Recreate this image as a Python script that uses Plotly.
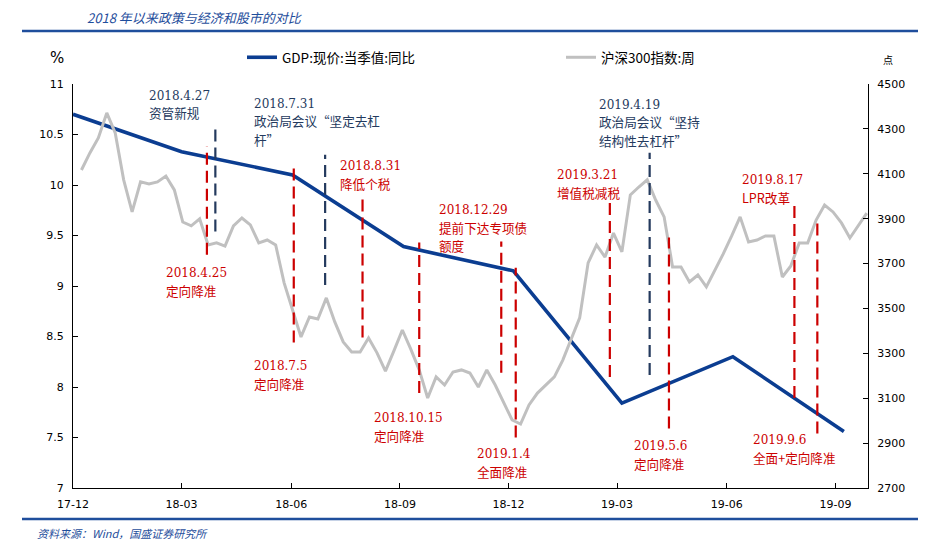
import plotly.graph_objects as go
import pandas as pd

# ---------------- data ----------------
gdp_dates = ["2017-12-01", "2018-03-01", "2018-06-01", "2018-09-01",
             "2018-12-01", "2019-03-01", "2019-06-01", "2019-09-01"]
gdp_values = [10.7, 10.33, 10.1, 9.39, 9.15, 7.84, 8.3, 7.56]

hs300_start = "2017-12-08"
hs300_values = [4117, 4193, 4260, 4371, 4282, 4073, 3930, 4064, 4055, 4064,
                4090, 4028, 3885, 3868, 3899, 3783, 3792, 3778, 3868, 3903,
                3872, 3792, 3805, 3783, 3614, 3493, 3373, 3462, 3453, 3547,
                3440, 3351, 3306, 3306, 3368, 3302, 3221, 3311, 3404, 3319,
                3226, 3101, 3195, 3159, 3217, 3226, 3212, 3150, 3226, 3159,
                3079, 3003, 2985, 3070, 3123, 3159, 3195, 3270, 3360, 3458,
                3703, 3783, 3729, 3836, 3752, 4006, 4041, 4073, 3983, 3908,
                3685, 3685, 3618, 3649, 3596, 3667, 3743, 3823, 3908, 3796,
                3805, 3823, 3823, 3640, 3689, 3792, 3792, 3894, 3961, 3930,
                3881, 3814, 3872, 3925]
hs300_dates = pd.date_range(hs300_start, periods=len(hs300_values), freq="7D")

# tick positions as they appear on the chart's axis
tick_dates = ["2017-12-01", "2018-03-01", "2018-05-31", "2018-08-29",
              "2018-11-27", "2019-02-25", "2019-05-27", "2019-08-25"]
tick_labels = ["17-12", "18-03", "18-06", "18-09", "18-12", "19-03", "19-06", "19-09"]
x_range = ["2017-12-01", "2019-09-21"]

# event marker lines (dates as drawn in the chart), kind: policy(navy) / easing(red)
event_marker_dates = ["2018-03-22", "2018-03-29", "2018-06-02", "2018-06-28", "2018-07-29",
                      "2018-09-14", "2018-11-21", "2018-12-03", "2019-02-19", "2019-03-24",
                      "2019-04-09", "2019-07-22", "2019-08-10"]
event_kinds = ["easing", "policy", "easing", "policy", "easing",
               "easing", "easing", "easing", "easing", "policy",
               "easing", "easing", "easing"]
event_top = [10.38, 10.56, 10.18, 10.30, 9.88, 9.43, 9.44, 9.18, 9.83, 10.32, 9.48, 9.82, 9.67]
event_bottom = [9.31, 9.54, 8.44, 9.01, 8.49, 7.94, 8.14, 7.50, 8.10, 8.12, 7.59, 7.89, 7.54]

event_day_labels = ["2018.4.25", "2018.4.27", "2018.7.5", "2018.7.31", "2018.8.31",
                    "2018.10.15", "2018.12.29", "2019.1.4", "2019.3.21", "2019.4.19",
                    "2019.5.6", "2019.8.17", "2019.9.6"]
event_desc = [["定向降准"], ["资管新规"], ["定向降准"], ["政治局会议“坚定去杠", "杆”"],
              ["降低个税"], ["定向降准"], ["提前下达专项债", "额度"], ["全面降准"],
              ["增值税减税"], ["政治局会议“坚持", "结构性去杠杆”"], ["定向降准"],
              ["LPR改革"], ["全面+定向降准"]]
# text block positions on the page (pixel left, pixel centre of first line)
event_text_px = [(164, 273), (147, 96), (252, 366), (252, 104), (338, 166), (372, 418),
                 (437, 210), (475, 454), (555, 175), (597, 105), (632, 446), (740, 180),
                 (751, 440)]

# ---------------- styling ----------------
W, H = 943, 549
PAGE_OFF = 8                      # page body offset of the plot in the browser
L, R, T, B = 73, 868, 84, 488     # plot area, page pixels
NAVY = "#0b3d91"
GRAY = "#c0c0c0"
RED = "#cc0000"
DNAVY = "#243a5e"
TBLUE = "#1f4e9c"


def px_x(p):
    return (p - L) / (R - L)


def px_y(p):
    return (B - p) / (B - T)


fig = go.Figure()
fig.add_trace(go.Scatter(x=gdp_dates, y=gdp_values, mode="lines", name="GDP:现价:当季值:同比",
                         line=dict(color=NAVY, width=3.6), legend="legend", yaxis="y"))
fig.add_trace(go.Scatter(x=hs300_dates, y=hs300_values, mode="lines", name="沪深300指数:周",
                         line=dict(color=GRAY, width=3), legend="legend2", yaxis="y2"))

shapes = []
for d, k, y0, y1 in zip(event_marker_dates, event_kinds, event_bottom, event_top):
    shapes.append(dict(type="line", xref="x", yref="y", x0=d, x1=d, y0=y0, y1=y1,
                       line=dict(color=RED if k == "easing" else DNAVY, width=2.2,
                                 dash="12px,6px")))
for yy in (31, 519):
    shapes.append(dict(type="line", xref="paper", yref="paper", x0=px_x(22), x1=px_x(918),
                       y0=px_y(yy), y1=px_y(yy), line=dict(color=TBLUE, width=2.5)))

annotations = []
for day, desc, k, (tx, ty) in zip(event_day_labels, event_desc, event_kinds, event_text_px):
    col = RED if k == "easing" else DNAVY
    annotations.append(dict(text=day, xref="paper", yref="paper", x=px_x(tx), y=px_y(ty),
                            xanchor="left", yanchor="middle", showarrow=False,
                            font=dict(family="DejaVu Serif", size=12, color=col)))
    yy = ty + 17
    for line in desc:
        annotations.append(dict(text=line, xref="paper", yref="paper", x=px_x(tx), y=px_y(yy),
                                xanchor="left", yanchor="middle", showarrow=False,
                                font=dict(family="Noto Sans CJK SC", size=12.6, color=col)))
        yy += 18.3

annotations += [
    dict(text="<i>2018 年以来政策与经济和股市的对比</i>", xref="paper", yref="paper",
         x=px_x(85), y=px_y(17), xanchor="left", yanchor="middle", showarrow=False,
         font=dict(family="Noto Sans CJK SC", size=13, color=TBLUE)),
    dict(text="<i>资料来源：Wind，国盛证券研究所</i>", xref="paper", yref="paper",
         x=px_x(35), y=px_y(533), xanchor="left", yanchor="middle", showarrow=False,
         font=dict(family="Noto Sans CJK SC", size=11, color=TBLUE)),
    dict(text="%", xref="paper", yref="paper", x=px_x(57), y=px_y(58), xanchor="center",
         yanchor="middle", showarrow=False, font=dict(family="DejaVu Sans", size=15, color="black")),
    dict(text="点", xref="paper", yref="paper", x=px_x(888), y=px_y(60), xanchor="center",
         yanchor="middle", showarrow=False, font=dict(family="Noto Sans CJK SC", size=10, color="black")),
]

axis_font = dict(family="DejaVu Sans", size=11, color="black")
legend_font = dict(family="Noto Sans CJK SC", size=13.5, color="black")
fig.update_layout(
    width=W, height=H,
    margin=dict(l=L - PAGE_OFF, r=W - (R - PAGE_OFF), t=T - PAGE_OFF, b=H - (B - PAGE_OFF),
                autoexpand=False),
    paper_bgcolor="white", plot_bgcolor="white",
    shapes=shapes, annotations=annotations,
    xaxis=dict(type="date", range=x_range, tickvals=tick_dates, ticktext=tick_labels,
               showgrid=False, zeroline=False, showline=True, linecolor="black", linewidth=1,
               ticks="inside", ticklen=5, tickcolor="black", tickfont=axis_font,
               ticklabelstandoff=6),
    yaxis=dict(range=[7, 11], dtick=0.5, tick0=7, showgrid=False, zeroline=False,
               showline=True, linecolor="black", linewidth=1, ticks="inside", ticklen=5,
               tickcolor="black", tickfont=axis_font, ticklabelstandoff=6),
    yaxis2=dict(range=[2700, 4500], dtick=200, tick0=2700, overlaying="y", side="right",
                showgrid=False, zeroline=False, showline=True, linecolor="black", linewidth=1,
                ticks="inside", ticklen=5, tickcolor="black", tickfont=axis_font,
                ticklabelstandoff=6),
    legend=dict(x=px_x(242), y=px_y(42), xanchor="left", yanchor="top", orientation="h",
                font=legend_font, bgcolor="rgba(0,0,0,0)"),
    legend2=dict(x=px_x(561), y=px_y(42), xanchor="left", yanchor="top", orientation="h",
                 font=legend_font, bgcolor="rgba(0,0,0,0)"),
    showlegend=True,
)

fig.write_html("out.html")
